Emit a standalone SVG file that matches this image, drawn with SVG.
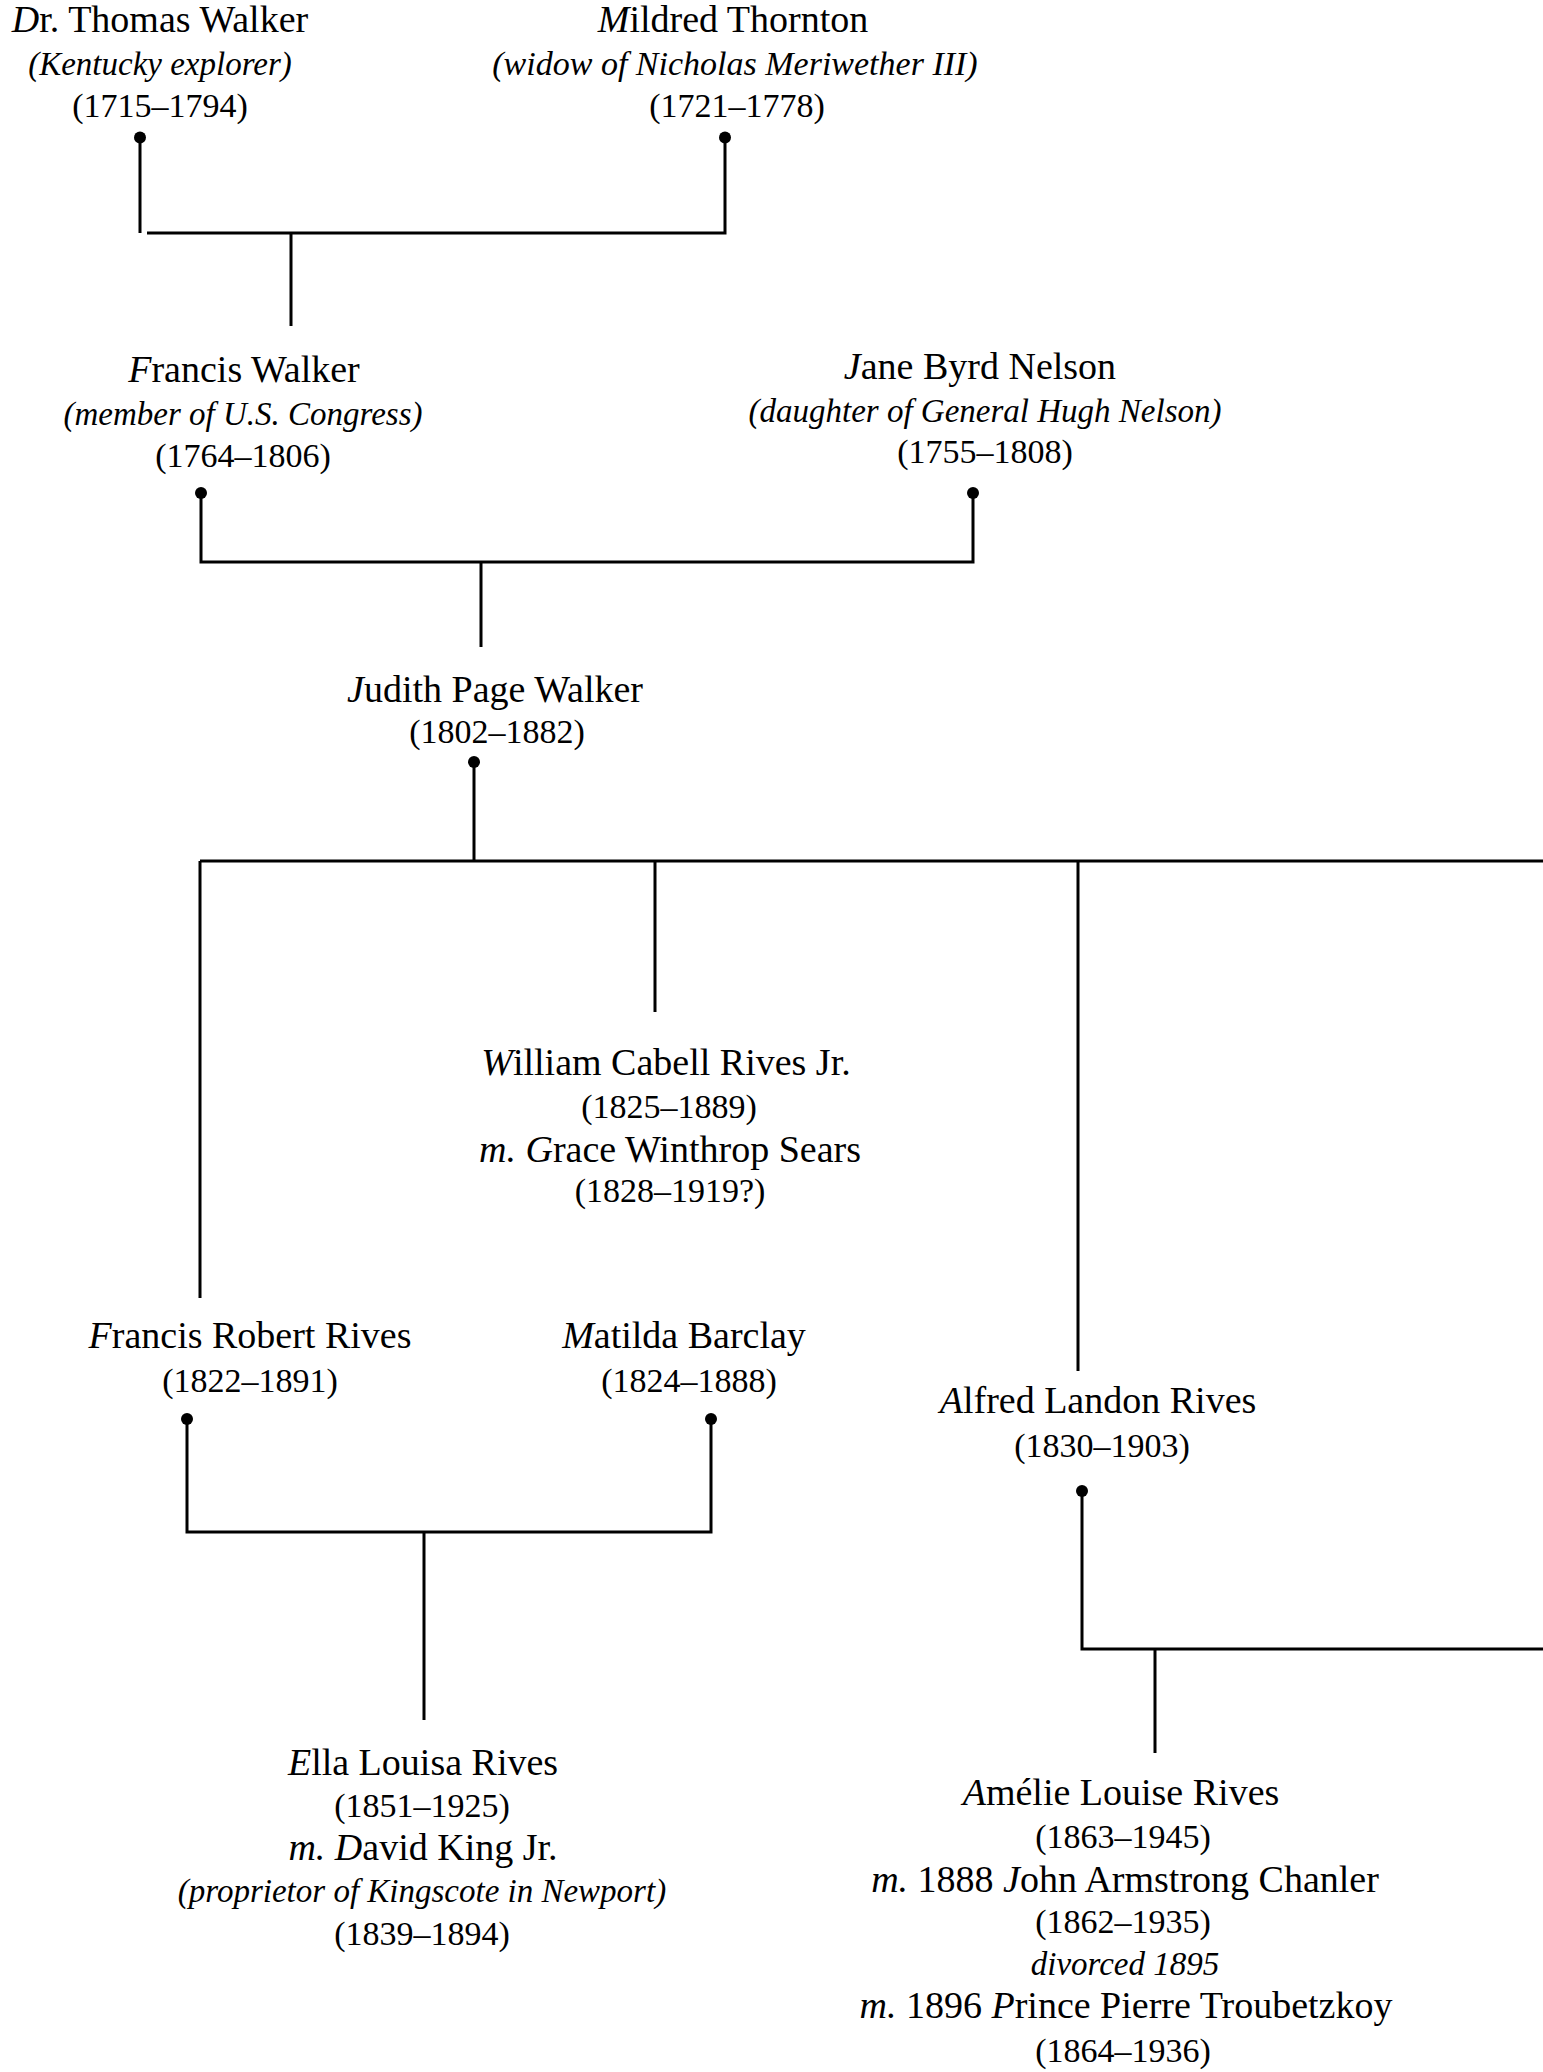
<svg xmlns="http://www.w3.org/2000/svg" width="1543" height="2072" viewBox="0 0 1543 2072">
<style>
text{font-family:"Liberation Serif",serif;fill:#000;text-anchor:middle}
.n{font-size:38px}
.d{font-size:34px}
.i{font-size:33px;font-style:italic}
.sw{font-style:italic}
.ln{stroke:#000;stroke-width:3;fill:none}
.dot{fill:#000}
</style>
<rect width="1543" height="2072" fill="#fff"/>
<g id="connectors">
<path class="ln" d="M140 137V233M147 233H725M725 137V234.5M291 233V326"/>
<path class="ln" d="M201 493V562H973V493M481 562V647"/>
<path class="ln" d="M474 762V861M200 861H1543M200 861V1298M655 861V1012M1078 861V1371"/>
<path class="ln" d="M187 1419V1532H711V1419M424 1532V1720"/>
<path class="ln" d="M1082 1491V1649H1543M1155 1649V1753"/>
<circle class="dot" cx="140" cy="137.5" r="6"/>
<circle class="dot" cx="725" cy="137.5" r="6"/>
<circle class="dot" cx="201" cy="493" r="6"/>
<circle class="dot" cx="973" cy="493" r="6"/>
<circle class="dot" cx="474" cy="762" r="6"/>
<circle class="dot" cx="187" cy="1419" r="6"/>
<circle class="dot" cx="711" cy="1419" r="6"/>
<circle class="dot" cx="1082" cy="1491" r="6"/>
</g>
<g id="thomas-walker">
<text class="n" x="160" y="32"><tspan class="sw">D</tspan>r. Thomas Walker</text>
<text class="i" x="160" y="75">(Kentucky explorer)</text>
<text class="d" x="160" y="117">(1715–1794)</text>
</g>
<g id="mildred-thornton">
<text class="n" x="733" y="32"><tspan class="sw">M</tspan>ildred Thornton</text>
<text class="i" x="735" y="75" style="font-size:34px">(widow of Nicholas Meriwether III)</text>
<text class="d" x="737" y="117">(1721–1778)</text>
</g>
<g id="francis-walker">
<text class="n" x="244" y="382"><tspan class="sw">F</tspan>rancis Walker</text>
<text class="i" x="243" y="425">(member of U.S. Congress)</text>
<text class="d" x="243" y="467">(1764–1806)</text>
</g>
<g id="jane-byrd-nelson">
<text class="n" x="980" y="379"><tspan class="sw">J</tspan>ane Byrd Nelson</text>
<text class="i" x="985" y="422">(daughter of General Hugh Nelson)</text>
<text class="d" x="985" y="463">(1755–1808)</text>
</g>
<g id="judith-page-walker">
<text class="n" x="495" y="702"><tspan class="sw">J</tspan>udith Page Walker</text>
<text class="d" x="497" y="743">(1802–1882)</text>
</g>
<g id="william-cabell-rives">
<text class="n" x="666" y="1075"><tspan class="sw">W</tspan>illiam Cabell Rives Jr.</text>
<text class="d" x="669" y="1118">(1825–1889)</text>
<text class="n" x="670" y="1162"><tspan class="sw">m.</tspan> <tspan class="sw">G</tspan>race Winthrop Sears</text>
<text class="d" x="670" y="1202">(1828–1919?)</text>
</g>
<g id="francis-robert-rives">
<text class="n" x="250" y="1348"><tspan class="sw">F</tspan>rancis Robert Rives</text>
<text class="d" x="250" y="1392">(1822–1891)</text>
</g>
<g id="matilda-barclay">
<text class="n" x="684" y="1348"><tspan class="sw">M</tspan>atilda Barclay</text>
<text class="d" x="689" y="1392">(1824–1888)</text>
</g>
<g id="alfred-landon-rives">
<text class="n" x="1098" y="1413"><tspan class="sw">A</tspan>lfred Landon Rives</text>
<text class="d" x="1102" y="1457">(1830–1903)</text>
</g>
<g id="ella-louisa-rives">
<text class="n" x="423" y="1775"><tspan class="sw">E</tspan>lla Louisa Rives</text>
<text class="d" x="422" y="1817">(1851–1925)</text>
<text class="n" x="423" y="1860"><tspan class="sw">m.</tspan> <tspan class="sw">D</tspan>avid King Jr.</text>
<text class="i" x="422" y="1902">(proprietor of Kingscote in Newport)</text>
<text class="d" x="422" y="1945">(1839–1894)</text>
</g>
<g id="amelie-louise-rives">
<text class="n" x="1121" y="1805"><tspan class="sw">A</tspan>mélie Louise Rives</text>
<text class="d" x="1123" y="1848">(1863–1945)</text>
<text class="n" x="1125" y="1892"><tspan class="sw">m.</tspan> 1888 <tspan class="sw">J</tspan>ohn Armstrong Chanler</text>
<text class="d" x="1123" y="1933">(1862–1935)</text>
<text class="i" x="1125" y="1975">divorced 1895</text>
<text class="n" x="1126" y="2018"><tspan class="sw">m.</tspan> 1896 <tspan class="sw">P</tspan>rince Pierre Troubetzkoy</text>
<text class="d" x="1123" y="2062">(1864–1936)</text>
</g>
</svg>
